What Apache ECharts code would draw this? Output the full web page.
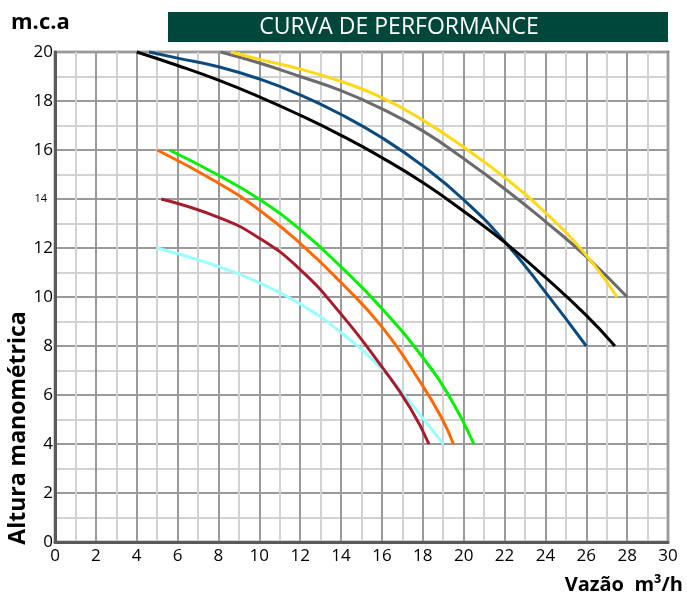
<!DOCTYPE html>
<html>
<head>
<meta charset="utf-8">
<script src="https://cdn.jsdelivr.net/npm/echarts@6/dist/echarts.min.js"></script>
<style>
html,body{margin:0;padding:0;background:#fff;}
#c{width:687px;height:596px;}
</style>
</head>
<body>
<div id="c"></div>
<script>
// ---- Data ----
var titleText = 'CURVA DE PERFORMANCE';
var yAxisName = 'Altura manométrica';
var yUnit = 'm.c.a';
var xAxisName = 'Vazão  m³/h';

var blackX  = [4, 6, 8, 10, 12, 14, 16, 18, 20, 22, 24, 26, 27.4];
var blackY  = [20, 19.45, 18.85, 18.17, 17.42, 16.6, 15.69, 14.67, 13.5, 12.24, 10.8, 9.25, 8];

var blueX   = [4.6, 6, 8, 10, 12, 14, 16, 18, 20, 22, 24, 26];
var blueY   = [20, 19.75, 19.4, 18.9, 18.25, 17.45, 16.5, 15.35, 13.97, 12.27, 10.2, 8];

var grayX   = [8.1, 10, 12, 14, 16, 18, 20, 22, 24, 26, 28];
var grayY   = [20, 19.55, 19.0, 18.42, 17.68, 16.78, 15.65, 14.42, 13.08, 11.65, 10];

var yellowX = [8.6, 10, 12, 14, 16, 18, 20, 22, 24, 26, 27.5];
var yellowY = [20, 19.7, 19.3, 18.8, 18.14, 17.22, 16.12, 14.88, 13.45, 11.7, 10];

var greenX  = [5.6, 8, 10, 12, 14, 16, 18, 19.4, 20.5];
var greenY  = [16, 14.97, 13.99, 12.75, 11.23, 9.53, 7.53, 5.8, 4];

var orangeX = [5, 8, 10, 12, 14, 16, 17.9, 18.9, 19.5];
var orangeY = [16, 14.65, 13.55, 12.19, 10.59, 8.78, 6.5, 5.1, 4];

var redX    = [5.2, 8, 10, 12, 14, 16, 17.4, 18.3];
var redY    = [14, 13.25, 12.4, 11.12, 9.3, 7.15, 5.45, 4];

var cyanX   = [5, 8, 10, 12, 14, 16, 17.4, 19];
var cyanY   = [12, 11.25, 10.58, 9.72, 8.55, 7.05, 5.68, 4];

var xTicks = [0,2,4,6,8,10,12,14,16,18,20,22,24,26,28,30];
var yTicks = [0,2,4,6,8,10,12,14,16,18,20];
var smallYTick = 14;

function pairs(xs, ys){ return xs.map(function(x,i){ return [x, ys[i]]; }); }

var curves = [
  {x: cyanX, y: cyanY, c: '#99ffff'},
  {x: redX, y: redY, c: '#a51d2d'},
  {x: orangeX, y: orangeY, c: '#ff6a00'},
  {x: greenX, y: greenY, c: '#00f000'},
  {x: grayX, y: grayY, c: '#6b6b6b'},
  {x: yellowX, y: yellowY, c: '#ffd816'},
  {x: blueX, y: blueY, c: '#0b4a7d'},
  {x: blackX, y: blackY, c: '#000000'}
];

var FONT = 'Open Sans';
var chart = echarts.init(document.getElementById('c'), null, {renderer: 'canvas'});
var option = {
  animation: false,
  backgroundColor: '#ffffff',
  grid: {left: 55, right: 19, top: 52, bottom: 54, show: true, borderColor: '#5a5a5a', borderWidth: 2.5, containLabel: false},
  xAxis: {
    type: 'value', min: 0, max: 30, interval: 2,
    axisLine: {show: true, lineStyle: {color: '#5a5a5a', width: 3}},
    axisTick: {show: false},
    minorTick: {show: false, splitNumber: 2},
    splitLine: {show: true, lineStyle: {color: '#9a9a9a', width: 2}},
    minorSplitLine: {show: true, lineStyle: {color: '#d2d2d2', width: 2}},
    axisLabel: {color: '#000', fontSize: 17, fontFamily: FONT, margin: 6,
      formatter: function(v){ return xTicks.indexOf(v) >= 0 ? String(v) : ''; }}
  },
  yAxis: {
    type: 'value', min: 0, max: 20, interval: 2,
    axisLine: {show: true, lineStyle: {color: '#5a5a5a', width: 3}},
    axisTick: {show: false},
    minorTick: {show: false, splitNumber: 2},
    splitLine: {show: true, lineStyle: {color: '#9a9a9a', width: 2}},
    minorSplitLine: {show: true, lineStyle: {color: '#d2d2d2', width: 2}},
    axisLabel: {color: '#000', fontSize: 17, fontFamily: FONT, margin: 2,
      formatter: function(v){
        if (yTicks.indexOf(v) < 0) return '';
        return v === smallYTick ? '{s|' + v + '}' : '{n|' + v + '}';
      },
      rich: {
        n: {fontSize: 17, fontFamily: FONT, color: '#000'},
        s: {fontSize: 11, fontFamily: FONT, color: '#000', padding: [0, 6, 0, 0]}
      }
    }
  },
  series: curves.map(function(cv){
    return {
      type: 'line', data: pairs(cv.x, cv.y), smooth: 0.5,
      showSymbol: false, symbol: 'none', clip: false,
      lineStyle: {color: cv.c, width: 3}
    };
  }),
  graphic: [
    {type: 'rect', shape: {x: 168, y: 12, width: 500, height: 30}, style: {fill: '#00473b'}, z: 10},
    {type: 'text', x: 399, y: 27, z: 11, style: {text: titleText, fill: '#ffffff', font: '23px "' + FONT + '"', textAlign: 'center', textVerticalAlign: 'middle'}},
    {type: 'text', x: 11, y: 23, z: 11, style: {text: yUnit, fill: '#000', font: 'bold 22px "' + FONT + '"', textAlign: 'left', textVerticalAlign: 'middle'}},
    {type: 'text', x: 18, y: 428, rotation: Math.PI/2, z: 11, style: {text: yAxisName, fill: '#000', font: 'bold 23px "' + FONT + '"', textAlign: 'center', textVerticalAlign: 'middle'}},
    {type: 'text', x: 683, y: 585, z: 11, style: {text: xAxisName, fill: '#000', font: 'bold 20px "' + FONT + '"', textAlign: 'right', textVerticalAlign: 'middle'}}
  ]
};
chart.setOption(option);
</script>
</body>
</html>
